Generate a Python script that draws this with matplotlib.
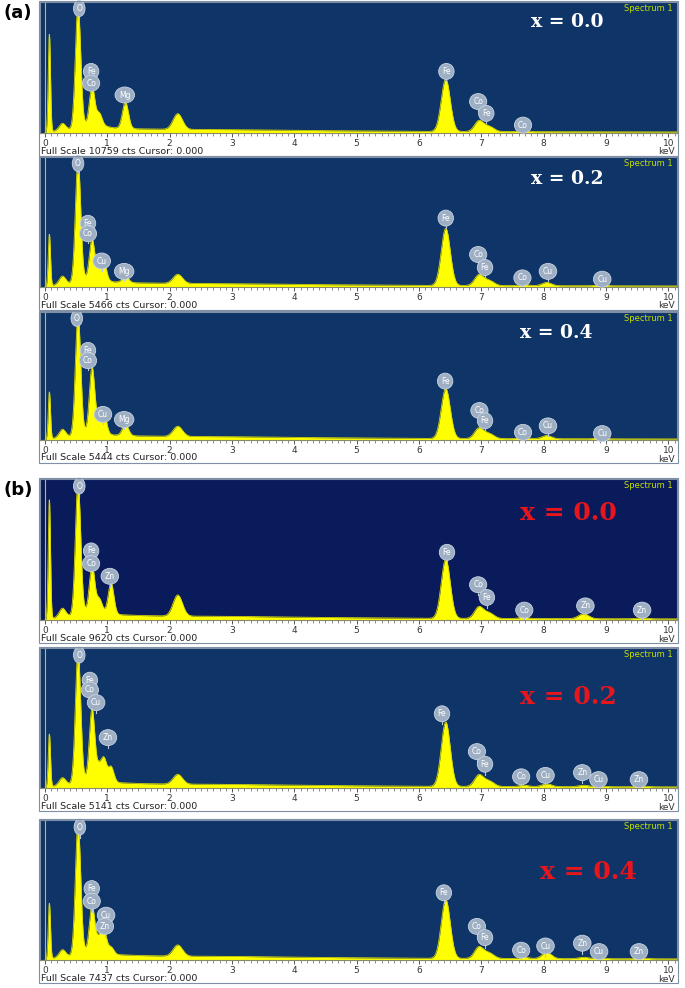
import numpy as np
import matplotlib.pyplot as plt
from matplotlib.patches import Rectangle

plt.rcParams["font.family"] = ["DejaVu Sans"]

W, H = 685, 988

# ---- data ----
# peak energies (keV), widths (keV) shared by all spectra
PEAK_E = [0.07, 0.28, 0.53, 0.755, 0.87, 0.95, 1.06, 1.29, 2.13,
          6.43, 6.96, 7.12, 7.68, 8.05, 8.64, 8.91, 9.58]
PEAK_W = [0.018, 0.05, 0.042, 0.042, 0.045, 0.04, 0.045, 0.048, 0.075,
          0.072, 0.07, 0.08, 0.07, 0.075, 0.08, 0.08, 0.08]

# peak heights (fraction of full scale) for each spectrum
H_A00 = [0.75, 0.05, 0.93, 0.29, 0.09, 0.00, 0.00, 0.20, 0.12,
         0.40, 0.08, 0.04, 0.01, 0.00, 0.00, 0.00, 0.00]
H_A02 = [0.40, 0.06, 0.93, 0.30, 0.08, 0.12, 0.00, 0.05, 0.07,
         0.44, 0.08, 0.04, 0.01, 0.025, 0.00, 0.005, 0.00]
H_A04 = [0.37, 0.06, 0.93, 0.50, 0.10, 0.14, 0.00, 0.09, 0.08,
         0.39, 0.08, 0.04, 0.01, 0.025, 0.00, 0.005, 0.00]
H_B00 = [0.85, 0.06, 0.93, 0.32, 0.09, 0.00, 0.22, 0.00, 0.15,
         0.42, 0.08, 0.04, 0.01, 0.00, 0.035, 0.00, 0.008]
H_B02 = [0.38, 0.05, 0.93, 0.50, 0.10, 0.14, 0.11, 0.00, 0.07,
         0.46, 0.08, 0.04, 0.01, 0.02, 0.01, 0.005, 0.005]
H_B04 = [0.40, 0.05, 0.93, 0.32, 0.10, 0.14, 0.05, 0.00, 0.08,
         0.42, 0.08, 0.04, 0.01, 0.045, 0.01, 0.005, 0.005]

# continuum background knots
BG_E = [0.0, 0.2, 0.4, 0.6, 0.7, 0.9, 1.1, 1.5, 2.0, 3.0, 4.0, 6.0, 8.0, 10.2]
BG_Y = [0.0, 0.02, 0.03, 0.06, 0.07, 0.06, 0.04, 0.032, 0.028, 0.026, 0.02, 0.012, 0.01, 0.008]

# element markers: (symbol, energy, height)
LAB_A00 = [("O", 0.55, 0.95), ("Fe", 0.74, 0.47), ("Co", 0.74, 0.38), ("Mg", 1.28, 0.29),
           ("Fe", 6.44, 0.47), ("Co", 6.95, 0.24), ("Fe", 7.08, 0.15), ("Co", 7.67, 0.06)]
LAB_A02 = [("O", 0.53, 0.95), ("Fe", 0.69, 0.49), ("Co", 0.69, 0.41), ("Cu", 0.91, 0.20),
           ("Mg", 1.27, 0.12), ("Fe", 6.43, 0.53), ("Co", 6.95, 0.25), ("Fe", 7.06, 0.15),
           ("Co", 7.66, 0.07), ("Cu", 8.07, 0.12), ("Cu", 8.94, 0.06)]
LAB_A04 = [("O", 0.51, 0.95), ("Fe", 0.69, 0.70), ("Co", 0.69, 0.62), ("Cu", 0.93, 0.20),
           ("Mg", 1.27, 0.16), ("Fe", 6.42, 0.46), ("Co", 6.97, 0.23), ("Fe", 7.06, 0.15),
           ("Co", 7.67, 0.06), ("Cu", 8.07, 0.11), ("Cu", 8.94, 0.05)]
LAB_B00 = [("O", 0.55, 0.95), ("Fe", 0.74, 0.49), ("Co", 0.74, 0.40), ("Zn", 1.04, 0.31),
           ("Fe", 6.45, 0.48), ("Co", 6.95, 0.25), ("Fe", 7.09, 0.16), ("Co", 7.69, 0.07),
           ("Zn", 8.67, 0.10), ("Zn", 9.58, 0.07)]
LAB_B02 = [("O", 0.55, 0.95), ("Fe", 0.72, 0.77), ("Co", 0.72, 0.70), ("Cu", 0.82, 0.61),
           ("Zn", 1.01, 0.36), ("Fe", 6.37, 0.53), ("Co", 6.93, 0.26), ("Fe", 7.06, 0.17),
           ("Co", 7.64, 0.08), ("Cu", 8.03, 0.09), ("Zn", 8.62, 0.11), ("Cu", 8.88, 0.06),
           ("Zn", 9.53, 0.06)]
LAB_B04 = [("O", 0.56, 0.95), ("Fe", 0.75, 0.51), ("Co", 0.75, 0.42), ("Cu", 0.98, 0.32),
           ("Zn", 0.96, 0.24), ("Fe", 6.40, 0.48), ("Co", 6.93, 0.24), ("Fe", 7.06, 0.16),
           ("Co", 7.64, 0.07), ("Cu", 8.03, 0.10), ("Zn", 8.62, 0.12), ("Cu", 8.89, 0.06),
           ("Zn", 9.53, 0.06)]

FULL_SCALE = [10759, 5466, 5444, 9620, 5141, 7437]
X_TEXT = ["x = 0.0", "x = 0.2", "x = 0.4", "x = 0.0", "x = 0.2", "x = 0.4"]

# panel pixel geometry (top of blue area, baseline)
TOPS = [2, 157, 312, 479, 648, 820]
BASES = [133, 287, 440, 620, 788, 960]
XT_POS = [(567, 22), (567, 179), (556, 333), (568, 513), (568, 697), (588, 872)]

heights = [H_A00, H_A02, H_A04, H_B00, H_B02, H_B04]
labels = [LAB_A00, LAB_A02, LAB_A04, LAB_B00, LAB_B02, LAB_B04]
bgcols = ["#0f3568", "#0f3568", "#0f3568", "#0a1b5c", "#0f3568", "#0f3568"]

fig = plt.figure(figsize=(W / 100, H / 100), dpi=100)
fig.patch.set_facecolor("white")


def px_axes(x0, y0, x1, y1):
    return fig.add_axes([x0 / W, 1 - y1 / H, (x1 - x0) / W, (y1 - y0) / H])


E = np.arange(0, 10.2, 0.004)

for k in range(6):
    top, base = TOPS[k], BASES[k]
    # outer frame incl. footer
    fig.patches.append(Rectangle((39 / W, 1 - (base + 23) / H), 639 / W, (base + 23 - top + 1) / H,
                                 transform=fig.transFigure, fill=False,
                                 edgecolor="#7f8fa6", lw=0.8, zorder=0))
    ax = px_axes(40, top, 677, base)
    ax.set_facecolor(bgcols[k])
    ax.set_xlim(-0.08, 10.14)
    ax.set_ylim(0, 1)

    y = np.interp(E, BG_E, BG_Y)
    for e0, w0, h0 in zip(PEAK_E, PEAK_W, heights[k]):
        y = y + h0 * np.exp(-0.5 * ((E - e0) / w0) ** 2)
    ax.fill_between(E, 0, y, color="#ffff00", lw=0, zorder=2)
    ax.plot(E, y, color="#d6d600", lw=0.6, zorder=3)
    ax.axvline(0.0, color="#c8c800", lw=0.8, zorder=2)

    for sym, e0, yl in labels[k]:
        ax.plot([e0, e0], [yl - 0.075, yl], color="#b8c6d8", lw=0.8, zorder=4)
        ax.text(e0, yl, sym, ha="center", va="center", fontsize=5.5, color="white",
                zorder=5,
                bbox=dict(boxstyle="ellipse,pad=0.15", facecolor="#9eafc4",
                          edgecolor="#c9d4e2", lw=0.6))

    ax.text(0.993, 0.985, "Spectrum 1", transform=ax.transAxes, ha="right", va="top",
            fontsize=6, color="#c6df00")

    xt, yt = XT_POS[k]
    if k < 3:
        fig.text(xt / W, 1 - yt / H, X_TEXT[k], ha="center", va="center",
                 fontsize=13.5, color="white", fontweight="bold", family="DejaVu Serif")
    else:
        fig.text(xt / W, 1 - yt / H, X_TEXT[k], ha="center", va="center",
                 fontsize=18, color="#e8161c", fontweight="bold", family="DejaVu Serif")

    ax.set_xticks(range(11))
    ax.set_xticklabels([str(i) for i in range(11)])
    ax.set_xticks(np.arange(0, 10.15, 0.1), minor=True)
    ax.set_yticks([])
    ax.tick_params(axis="x", which="major", direction="out", length=3, width=0.7,
                   color="#555555", labelsize=6.5, labelcolor="#333333", pad=1.5)
    ax.tick_params(axis="x", which="minor", direction="out", length=1.8, width=0.6,
                   color="#777777")
    for s in ["top", "left", "right"]:
        ax.spines[s].set_color("#7f8fa6")
        ax.spines[s].set_linewidth(0.8)
    ax.spines["bottom"].set_color("#8a8a6a")
    ax.spines["bottom"].set_linewidth(0.8)

    fig.text(675 / W, 1 - (base + 19) / H, "keV", ha="right", va="center",
             fontsize=6.5, color="#333333")
    fig.text(41 / W, 1 - (base + 18) / H, f"Full Scale {FULL_SCALE[k]} cts Cursor: 0.000",
             ha="left", va="center", fontsize=6.8, color="#222222")

fig.text(18 / W, 1 - 13 / H, "(a)", ha="center", va="center", fontsize=13,
         fontweight="bold", color="black")
fig.text(18 / W, 1 - 490 / H, "(b)", ha="center", va="center", fontsize=13,
         fontweight="bold", color="black")

fig.savefig("out.png", dpi=100, facecolor="white")
